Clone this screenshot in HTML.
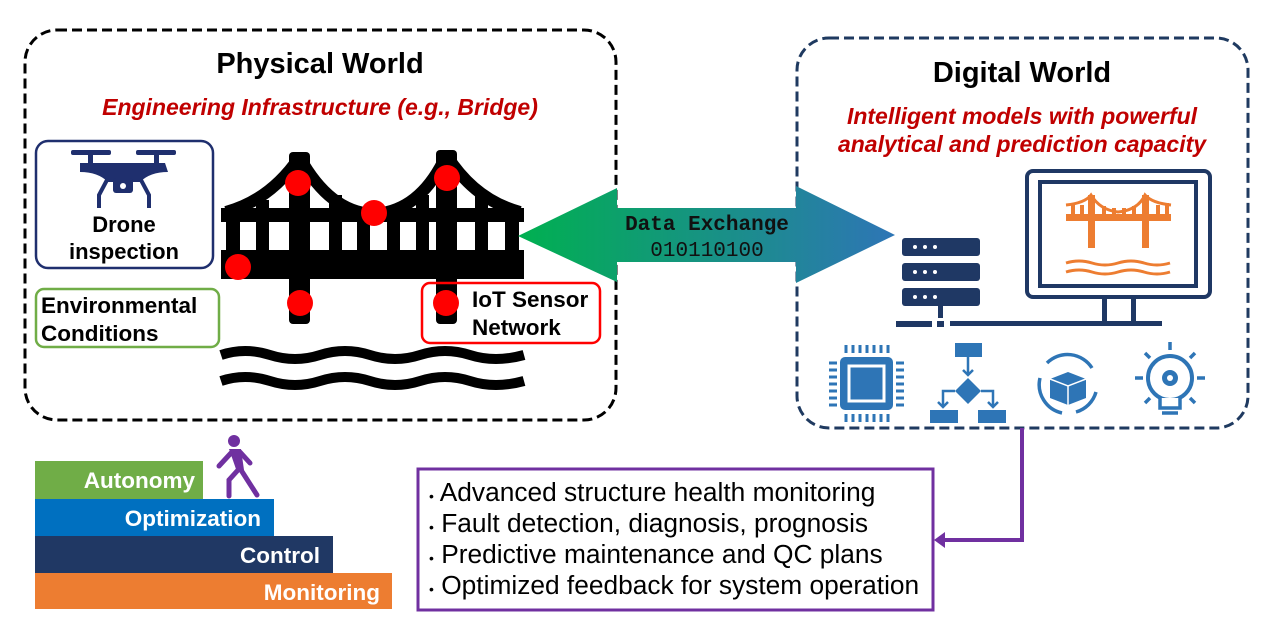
<!DOCTYPE html>
<html><head><meta charset="utf-8"><style>
html,body{margin:0;padding:0;background:#fff;}
svg{display:block;}
text{font-family:"Liberation Sans",Arial,sans-serif;}
</style></head><body>
<svg width="1280" height="628" viewBox="0 0 1280 628" xmlns="http://www.w3.org/2000/svg">
<defs>
<linearGradient id="g" x1="0" x2="1" y1="0" y2="0">
<stop offset="0" stop-color="#00b050"/><stop offset="1" stop-color="#2e75b6"/>
</linearGradient>
</defs>
<rect width="1280" height="628" fill="#fff"/>
<rect x="25" y="30" width="591" height="390" rx="32" fill="none" stroke="#000" stroke-width="3" stroke-dasharray="10,5"/>
<text x="320" y="73" text-anchor="middle" font-size="29" font-weight="bold">Physical World</text>
<text x="320" y="115" text-anchor="middle" font-size="23" font-weight="bold" font-style="italic" fill="#c00000">Engineering Infrastructure (e.g., Bridge)</text>
<rect x="797" y="38" width="451" height="390" rx="32" fill="none" stroke="#1f3a60" stroke-width="3" stroke-dasharray="10,5"/>
<text x="1022" y="82" text-anchor="middle" font-size="29" font-weight="bold">Digital World</text>
<text x="1022" y="124" text-anchor="middle" font-size="23" font-weight="bold" font-style="italic" fill="#c00000">Intelligent models with powerful</text>
<text x="1022" y="152" text-anchor="middle" font-size="23" font-weight="bold" font-style="italic" fill="#c00000">analytical and prediction capacity</text>

<g fill="#000">
<rect x="221" y="250" width="303" height="29"/>
<rect x="221" y="208" width="303" height="14"/>
<rect x="289" y="152" width="21" height="172" rx="4"/>
<rect x="436" y="150" width="21" height="174" rx="4"/>
<rect x="226" y="215" width="14" height="40"/>
<rect x="256" y="200" width="13" height="55"/>
<rect x="329" y="195" width="13" height="60"/>
<rect x="357" y="210" width="13" height="45"/>
<rect x="387" y="210" width="13" height="45"/>
<rect x="416" y="195" width="13" height="60"/>
<rect x="475" y="195" width="13" height="60"/>
<rect x="505" y="210" width="14" height="45"/>
</g>
<g fill="none" stroke="#000" stroke-width="12">
<path d="M226 212 Q270 200 299 158"/>
<path d="M300 158 Q330 212 373 214 Q420 212 446 156"/>
<path d="M447 156 Q475 200 520 212"/>
</g>
<g fill="none" stroke="#000" stroke-width="10">
<path d="M221 355 Q245 347 270 355 T320 355 T370 355 T420 355 T470 355 T524 355"/>
<path d="M221 381 Q245 373 270 381 T320 381 T370 381 T420 381 T470 381 T524 381"/>
</g>
<g fill="#ff0000">
<circle cx="298" cy="183" r="13"/><circle cx="447" cy="178" r="13"/>
<circle cx="374" cy="213" r="13"/><circle cx="238" cy="267" r="13"/>
<circle cx="300" cy="303" r="13"/>
</g>

<rect x="36" y="141" width="177" height="127" rx="12" fill="none" stroke="#1f2f6e" stroke-width="2.5"/>
<g fill="#1f2f6e">
<rect x="71" y="150" width="40" height="5" rx="2"/><rect x="136" y="150" width="40" height="5" rx="2"/>
<rect x="88" y="150" width="5" height="15"/><rect x="154" y="150" width="5" height="15"/>
<path d="M80 163 L165 163 L168 172 Q150 172 140 182 L108 182 Q98 172 80 172 Z"/>
<rect x="113" y="178" width="20" height="15" rx="3"/>
</g>
<g fill="none" stroke="#1f2f6e" stroke-width="4"><path d="M107 180 L99 195 L99 208"/><path d="M141 180 L149 195 L149 208"/></g>
<circle cx="123" cy="186" r="3" fill="#fff"/>
<text x="124" y="232" text-anchor="middle" font-size="22" font-weight="bold">Drone</text>
<text x="124" y="259" text-anchor="middle" font-size="22" font-weight="bold">inspection</text>
<rect x="36" y="289" width="183" height="58" rx="8" fill="none" stroke="#70ad47" stroke-width="2.5"/>
<text x="41" y="313" font-size="22.5" font-weight="bold">Environmental</text>
<text x="41" y="341" font-size="22.5" font-weight="bold">Conditions</text>
<rect x="422" y="283" width="178" height="60" rx="8" fill="none" stroke="#ff0000" stroke-width="2.5"/>
<circle cx="446" cy="303" r="13" fill="#ff0000"/>
<text x="472" y="307" font-size="22.5" font-weight="bold">IoT Sensor</text>
<text x="472" y="335" font-size="22.5" font-weight="bold">Network</text>

<path d="M518 236 L617 188 L617 208 L796 208 L796 186 L895 235 L796 283 L796 262 L617 262 L617 282 Z" fill="url(#g)"/>
<text x="707" y="230" text-anchor="middle" font-size="21" font-weight="bold" style="font-family:'Liberation Mono',monospace" fill="#111">Data Exchange</text>
<text x="707" y="256" text-anchor="middle" font-size="21" style="font-family:'Liberation Mono',monospace" fill="#111">010110100</text>

<g fill="#1f3864">
<rect x="902" y="238" width="78" height="18" rx="3"/>
<rect x="902" y="263" width="78" height="18" rx="3"/>
<rect x="902" y="288" width="78" height="18" rx="3"/>
<rect x="938" y="306" width="5" height="12"/>
<rect x="896" y="321" width="36" height="6"/><rect x="937" y="321" width="7" height="6"/>
<rect x="950" y="321" width="212" height="5"/>
<rect x="1102" y="296" width="5" height="27"/><rect x="1131" y="296" width="5" height="27"/>
</g>
<g fill="#fff">
<circle cx="915" cy="247" r="2"/><circle cx="925" cy="247" r="2"/><circle cx="935" cy="247" r="2"/>
<circle cx="915" cy="272" r="2"/><circle cx="925" cy="272" r="2"/><circle cx="935" cy="272" r="2"/>
<circle cx="915" cy="297" r="2"/><circle cx="925" cy="297" r="2"/><circle cx="935" cy="297" r="2"/>
</g>
<rect x="1027" y="171" width="183" height="126" rx="6" fill="none" stroke="#1f3864" stroke-width="4"/>
<rect x="1040" y="182" width="156" height="104" fill="none" stroke="#1f3864" stroke-width="4"/>
<g fill="#ed7d31">
<rect x="1066" y="214" width="105" height="7"/>
<rect x="1088" y="195" width="7" height="53"/><rect x="1142" y="195" width="7" height="53"/>
<rect x="1071" y="203" width="4" height="12"/><rect x="1080" y="205" width="4" height="10"/>
<rect x="1102" y="206" width="4" height="9"/><rect x="1112" y="208" width="4" height="7"/><rect x="1122" y="208" width="4" height="7"/><rect x="1132" y="206" width="4" height="9"/>
<rect x="1156" y="205" width="4" height="10"/><rect x="1165" y="203" width="4" height="12"/>
</g>
<g fill="none" stroke="#ed7d31" stroke-width="3">
<path d="M1066 205 Q1085 203 1091 195 Q1100 210 1118 212 Q1138 210 1145 195 Q1152 203 1171 205"/>
<path d="M1066 263 q13 -4 26 0 t26 0 t26 0 t26 0"/>
<path d="M1066 272 q13 -4 26 0 t26 0 t26 0 t26 0"/>
</g>

<g fill="#2e75b6">
<rect x="840" y="357" width="53" height="53" rx="5"/>
<g stroke="#2e75b6" stroke-width="3">
<path d="M846 345v8M853 345v8M860 345v8M867 345v8M874 345v8M881 345v8M888 345v8"/>
<path d="M846 414v8M853 414v8M860 414v8M867 414v8M874 414v8M881 414v8M888 414v8"/>
<path d="M829 363h8M829 370h8M829 377h8M829 384h8M829 391h8M829 398h8M829 405h8"/>
<path d="M896 363h8M896 370h8M896 377h8M896 384h8M896 391h8M896 398h8M896 405h8"/>
</g>
</g>
<rect x="849" y="366" width="35" height="35" fill="none" stroke="#fff" stroke-width="3"/>
<g fill="#2e75b6">
<rect x="955" y="343" width="27" height="14"/>
<path d="M968 378 L981 391 L968 404 L955 391 Z"/>
<rect x="930" y="410" width="28" height="13"/><rect x="978" y="410" width="28" height="13"/>
</g>
<g fill="none" stroke="#2e75b6" stroke-width="2.5">
<path d="M968 357v18M963 370l5 5 5-5"/>
<path d="M955 391h-12v16M938 402l5 5 5-5"/>
<path d="M981 391h12v16M988 402l5 5 5-5"/>
</g>
<g fill="none" stroke="#2e75b6" stroke-width="3.5">
<path d="M1047 363 A29 29 0 0 1 1092 368"/>
<path d="M1096 392 A29 29 0 0 1 1076 412"/>
<path d="M1062 413 A29 29 0 0 1 1040 378"/>
</g>
<path d="M1068 372 L1086 379 L1086 398 L1068 405 L1050 398 L1050 379 Z" fill="#2e75b6"/>
<path d="M1050 379 L1068 386 L1086 379 M1068 386 L1068 405" stroke="#fff" stroke-width="1.5" fill="none"/>
<circle cx="1170" cy="378" r="22" fill="none" stroke="#2e75b6" stroke-width="4"/>
<circle cx="1170" cy="378" r="8" fill="#2e75b6"/>
<circle cx="1170" cy="378" r="3" fill="#fff"/>
<rect x="1160" y="398" width="20" height="12" fill="#fff"/>
<path d="M1160 398v10h20v-10M1162 413h16" stroke="#2e75b6" stroke-width="3.5" fill="none"/>
<g stroke="#2e75b6" stroke-width="3.5">
<path d="M1170 342v8M1135 378h8M1197 378h8M1145 353l5 5M1195 353l-5 5M1145 403l5-5M1195 403l-5-5"/>
</g>

<path d="M1022 428 V540 H942" fill="none" stroke="#7030a0" stroke-width="4"/>
<path d="M934 540 L945 532 L945 548 Z" fill="#7030a0"/>
<rect x="418" y="469" width="515" height="141" fill="#fff" stroke="#7030a0" stroke-width="3"/>
<g font-size="26.3">
<text x="429" y="501"><tspan font-size="14">•</tspan> Advanced structure health monitoring</text>
<text x="429" y="532"><tspan font-size="14">•</tspan> Fault detection, diagnosis, prognosis</text>
<text x="429" y="563"><tspan font-size="14">•</tspan> Predictive maintenance and QC plans</text>
<text x="429" y="594"><tspan font-size="14">•</tspan> Optimized feedback for system operation</text>
</g>

<rect x="35" y="573" width="357" height="36" fill="#ed7d31"/>
<rect x="35" y="536" width="298" height="37" fill="#203864"/>
<rect x="35" y="499" width="239" height="37" fill="#0070c0"/>
<rect x="35" y="461" width="168" height="38" fill="#70ad47"/>
<g font-size="22.5" font-weight="bold" fill="#fff" text-anchor="end">
<text x="195" y="488">Autonomy</text>
<text x="261" y="526">Optimization</text>
<text x="320" y="563">Control</text>
<text x="380" y="600">Monitoring</text>
</g>
<g fill="#7030a0">
<circle cx="234" cy="441" r="6"/>
<path d="M229 449 L241 449 L244 470 L237 472 Z"/>
</g>
<g stroke="#7030a0" stroke-width="5" stroke-linecap="round" fill="none">
<path d="M231 453 L219 466"/><path d="M240 452 L250 463"/>
<path d="M238 470 L229 480 L229 496"/><path d="M241 470 L257 495"/>
</g>
</svg>
</body></html>
